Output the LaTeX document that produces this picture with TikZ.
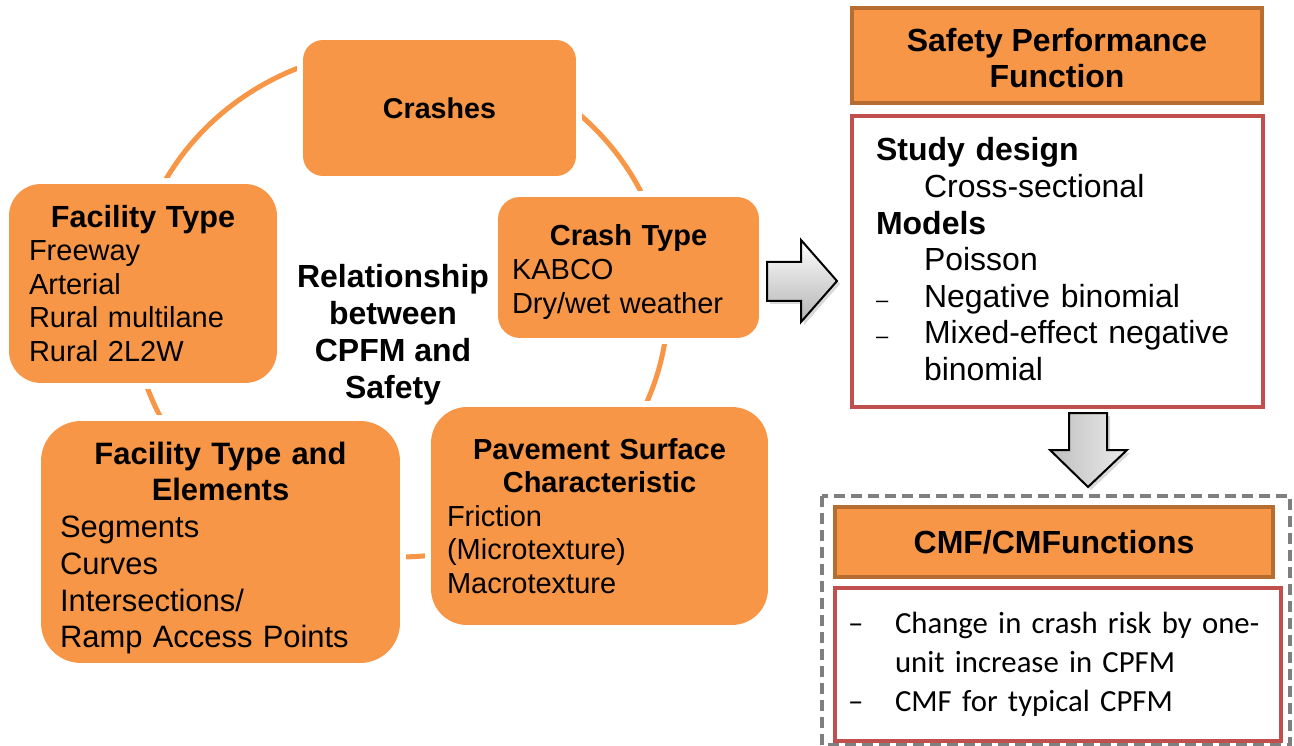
\documentclass[tikz,border=0pt]{standalone}
\usepackage{fontspec}
\setmainfont{Liberation Sans}
\newfontfamily\calibri{Carlito}
\usepackage{tikz}
\usetikzlibrary{shadows}
\setlength\parindent{0pt}
\setlength\parskip{0pt}

\definecolor{cycleorange}{HTML}{F79646}
\definecolor{headborder}{HTML}{B66D31}
\definecolor{bodyborder}{HTML}{C0504D}
\definecolor{framegray}{HTML}{7F7F7F}

\newcommand{\smalldash}{{\fontsize{12.5pt}{12.5pt}\selectfont \textendash}}
\newcommand{\boxfont}{\fontsize{16.5pt}{19.1pt}\selectfont}
\newcommand{\bigboxfont}{\fontsize{17.6pt}{20.9pt}\selectfont}
\newcommand{\sidefont}{\fontsize{18.2pt}{20.8pt}\selectfont}

\tikzset{
  cyclebox/.style={fill=cycleorange, preaction={draw=white, line width=0.24cm}, inner xsep=0.32cm, inner ysep=0pt, align=left},
  headbox/.style={fill=cycleorange, draw=headborder, line width=0.07cm, align=center, inner sep=0pt, font=\fontsize{18.2pt}{20.5pt}\selectfont\bfseries},
  bodybox/.style={fill=white, draw=bodyborder, line width=0.08cm, align=left, inner ysep=0pt},
  blockarrow/.style={draw=black, line width=0.04cm, top color=white, bottom color=black!30, drop shadow={opacity=0.3, shadow xshift=0.06cm, shadow yshift=-0.06cm}},
}

\begin{document}
\begin{tikzpicture}[x=0.02cm, y=-0.02cm]
\useasboundingbox (0,0) rectangle (1294,746);
\draw[cycleorange, line width=0.1cm] (400,303) ellipse [x radius=5.36cm, y radius=5.08cm];
\node[cyclebox, minimum width=5.46cm, minimum height=2.72cm, rounded corners=0.4cm, align=center, font=\fontsize{16.3pt}{19pt}\selectfont\bfseries] (crashes) at (439.5,108) {Crashes};
\node[cyclebox, minimum width=5.22cm, minimum height=2.82cm, rounded corners=0.44cm, inner xsep=0.28cm, text width=4.66cm, font=\boxfont] (crashtype) at (628.5,267.5) {{\centering\bfseries\rule{0pt}{0.6cm}Crash Type\par}KABCO\\Dry/wet weather};
\node[cyclebox, minimum width=5.36cm, minimum height=3.98cm, rounded corners=0.64cm, inner xsep=0.4cm, text width=4.56cm, font=\boxfont] (facility) at (143,283.5) {{\centering\fontsize{17.4pt}{19.1pt}\selectfont\bfseries Facility Type\par}Freeway\\Arterial\\Rural multilane\\Rural 2L2W};
\node[cyclebox, minimum width=7.18cm, minimum height=4.84cm, rounded corners=0.8cm, inner xsep=0.38cm, text width=6.42cm, font=\bigboxfont] (elements) at (220.5,542) {{\centering\bfseries\rule{0pt}{0.69cm}Facility Type and\\Elements\par}Segments\\Curves\\Intersections/\\Ramp Access Points};
\node[cyclebox, minimum width=6.74cm, minimum height=4.36cm, rounded corners=0.72cm, text width=6.10cm, font=\boxfont] (pavement) at (599.5,516) {{\centering\bfseries Pavement Surface\\Characteristic\par}Friction\\(Microtexture)\\Macrotexture};
\node[align=center, font=\fontsize{18.2pt}{21pt}\selectfont\bfseries] (relation) at (393,335) {Relationship\\between\\CPFM and\\Safety};

\node[headbox, minimum width=8.2cm, minimum height=1.9cm] (spfhead) at (1057,55.5) {\rule{0pt}{0.56cm}Safety Performance\\Function};
\node[bodybox, minimum width=8.22cm, minimum height=5.82cm, inner xsep=0.48cm, text width=7.26cm, font=\sidefont] (spfbody) at (1057.5,261.5) {\textbf{Study design}\\\hspace*{0.96cm}Cross-sectional\\\textbf{Models}\\\hspace*{0.96cm}Poisson\\\makebox[0.96cm][l]{\smalldash}Negative binomial\\\makebox[0.96cm][l]{\smalldash}Mixed-effect negative\\\hspace*{0.96cm}binomial\rule[-0.1cm]{0pt}{0pt}};

\draw[framegray, line width=0.07cm, dash pattern=on 0.22cm off 0.12cm] (822,496) rectangle (1290,745);
\node[headbox, minimum width=8.76cm, minimum height=1.4cm] (cmfhead) at (1054,542) {CMF/CMFunctions};
\node[bodybox, minimum width=8.92cm, minimum height=3.06cm, inner xsep=0.26cm, text width=8.4cm, font=\calibri\fontsize{17.5pt}{22.2pt}\selectfont] (cmfbody) at (1058,664.5) {\makebox[0.94cm][l]{\textendash}Change in crash risk by one-\\\hspace*{0.94cm}unit increase in CPFM\\\makebox[0.94cm][l]{\textendash}CMF for typical CPFM};

\draw[blockarrow] (767,262) -- (801,262) -- (801,240) -- (837,281) -- (801,322) -- (801,301) -- (767,301) -- cycle;
\draw[blockarrow, left color=black!25, right color=black!8] (1069,413) -- (1107,413) -- (1107,450) -- (1127,450) -- (1088,487) -- (1050,450) -- (1069,450) -- cycle;
\end{tikzpicture}
\end{document}
